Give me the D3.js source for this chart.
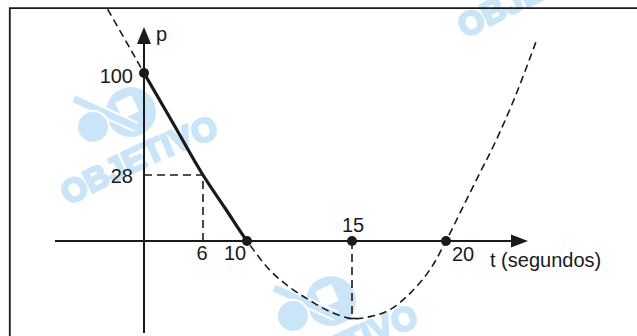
<!DOCTYPE html>
<html><head><meta charset="utf-8">
<script src="https://cdn.jsdelivr.net/npm/d3@7"></script>
<style>html,body{margin:0;padding:0;background:#fff;} svg{display:block;font-family:"Liberation Sans",Arial,Helvetica,sans-serif;}</style>
</head><body><svg id="c" width="637" height="336"></svg>
<script>
// ---- data ----
const curveT = [-3.7, -1.8, 0, 3, 6, 8, 10, 11.1, 12.05, 13.0, 13.95, 15, 15.96, 17.0, 18.1, 19.15, 20, 20.9, 21.8, 22.6, 23.7, 24.8];
const curveP = [145, 122, 100, 64, 28, 14, 0, -4.75, -7.5, -9.6, -11.4, -12.5, -12.2, -11.1, -8.4, -4.6, 0, 14.4, 29.4, 50.6, 84, 122.6];
const dotT = [0, 10, 15, 20];
const dotP = [100, 0, 0, 0];
const tickT = [6, 10, 15, 20];
const tickTLabels = ["6", "10", "15", "20"];
const tickP = [100, 28];
const tickPLabels = ["100", "28"];
const guideT = [6, 15];
const guideP = [28, -12.5];
const solidRange = [0, 10];
const axisLabelX = "t (segundos)";
const axisLabelY = "p";
const watermarkText = "OBJETIVO";

// ---- scales (schematic drawing: piecewise linear) ----
const x = d3.scaleLinear().domain([0, 6, 10, 15, 20]).range([144, 203, 247, 352, 446]);
const y = d3.scaleLinear().domain([-12.5, 0, 28, 100]).range([318.5, 241, 175, 73]);

const svg = d3.select("#c");
const ink = "#1a1a1a";
const wmColor = "#cbe5f8";

svg.append("rect").attr("width", 637).attr("height", 336).attr("fill", "#fff");

// ---- watermarks ----
const defs = svg.append("defs");
defs.append("path").attr("id", "wmPath").attr("d", "M68,206 Q155,158 230,133");
function watermark(dx, dy) {
  const g = svg.append("g").attr("transform", `translate(${dx},${dy})`);
  g.append("circle").attr("cx", 131).attr("cy", 112).attr("r", 25).attr("fill", wmColor);
  g.append("rect").attr("x", -10).attr("y", -10).attr("width", 20).attr("height", 20).attr("rx", 2)
    .attr("fill", "#fff").attr("stroke", wmColor).attr("stroke-width", 2)
    .attr("transform", "translate(127,107) rotate(-25)");
  g.append("line").attr("x1", 74).attr("y1", 99).attr("x2", 136).attr("y2", 127)
    .attr("stroke", "#fff").attr("stroke-width", 11);
  g.append("line").attr("x1", 74).attr("y1", 99).attr("x2", 136).attr("y2", 127)
    .attr("stroke", wmColor).attr("stroke-width", 7);
  g.append("circle").attr("cx", 93).attr("cy", 127).attr("r", 16).attr("fill", wmColor)
    .attr("stroke", "#fff").attr("stroke-width", 2);
  g.append("text").attr("font-size", 33).attr("font-weight", "bold").attr("letter-spacing", 0)
    .attr("fill", wmColor).attr("stroke", wmColor).attr("stroke-width", 2.4).attr("stroke-linejoin", "round")
    .append("textPath").attr("href", "#wmPath").text(watermarkText);
}
watermark(0, 0);
watermark(397, -167);
watermark(200, 189);

// ---- frame ----
svg.append("path").attr("d", "M9.8,336 V8.2 H637").attr("fill", "none")
  .attr("stroke", ink).attr("stroke-width", 1.8);

// ---- guides ----
const guideDash = "8,5";
svg.append("path")
  .attr("d", `M${x(0)},${y(guideP[0])} H${x(guideT[0])} V${y(0)}`)
  .attr("fill", "none").attr("stroke", ink).attr("stroke-width", 1.6).attr("stroke-dasharray", guideDash);
svg.append("line")
  .attr("x1", x(guideT[1])).attr("x2", x(guideT[1])).attr("y1", y(0)).attr("y2", y(guideP[1]))
  .attr("stroke", ink).attr("stroke-width", 1.6).attr("stroke-dasharray", guideDash);
svg.append("line")
  .attr("x1", x(guideT[1]) - 4.5).attr("x2", x(guideT[1]) + 4.5).attr("y1", y(guideP[1])).attr("y2", y(guideP[1]))
  .attr("stroke", ink).attr("stroke-width", 1.6);

// ---- axes ----
const x0 = x(0), y0 = y(0);
const xAxisStart = 55, xAxisTip = 528, yAxisBottom = 333, yAxisTip = 27;
svg.append("line").attr("x1", xAxisStart).attr("x2", xAxisTip - 10).attr("y1", y0).attr("y2", y0)
  .attr("stroke", ink).attr("stroke-width", 2);
svg.append("path").attr("d", `M${xAxisTip},${y0} L${xAxisTip - 17},${y0 - 6.5} L${xAxisTip - 17},${y0 + 6.5} Z`).attr("fill", ink);
svg.append("line").attr("x1", x0).attr("x2", x0).attr("y1", yAxisBottom).attr("y2", yAxisTip + 10)
  .attr("stroke", ink).attr("stroke-width", 2);
svg.append("path").attr("d", `M${x0},${yAxisTip} L${x0 - 7},${yAxisTip + 17} L${x0 + 7},${yAxisTip + 17} Z`).attr("fill", ink);

// ---- curve ----
const pts = curveT.map((t, i) => [x(t), y(curveP[i])]);
const line = d3.line().curve(d3.curveCatmullRom.alpha(0.5));
svg.append("path").attr("d", line(pts)).attr("fill", "none")
  .attr("stroke", ink).attr("stroke-width", 1.6).attr("stroke-dasharray", "7.5,4.5");
defs.append("clipPath").attr("id", "solidClip").append("rect")
  .attr("x", x(solidRange[0])).attr("y", 0)
  .attr("width", x(solidRange[1]) - x(solidRange[0])).attr("height", 336);
svg.append("path").attr("d", line(pts)).attr("fill", "none").attr("clip-path", "url(#solidClip)")
  .attr("stroke", ink).attr("stroke-width", 3.2);

// ---- dots ----
svg.selectAll("circle.dot").data(dotT).enter().append("circle").attr("class", "dot")
  .attr("cx", d => x(d)).attr("cy", (d, i) => y(dotP[i])).attr("r", 5).attr("fill", ink);

// ---- labels ----
const fs = 20;
const xLabelPlace = {
  6: { dx: -1, y: y0 + 19, anchor: "middle" },
  10: { dx: -12, y: y0 + 19, anchor: "middle" },
  15: { dx: 1, y: y0 - 9, anchor: "middle" },
  20: { dx: 6, y: y0 + 19.5, anchor: "start" }
};
svg.selectAll("text.xt").data(tickT).enter().append("text").attr("class", "xt")
  .attr("x", d => x(d) + xLabelPlace[d].dx).attr("y", d => xLabelPlace[d].y)
  .attr("text-anchor", d => xLabelPlace[d].anchor).attr("font-size", fs).attr("fill", ink)
  .text((d, i) => tickTLabels[i]);
svg.selectAll("text.yt").data(tickP).enter().append("text").attr("class", "yt")
  .attr("x", x0 - 11).attr("y", d => y(d) + (d === 100 ? 10 : 8))
  .attr("text-anchor", "end").attr("font-size", fs).attr("fill", ink)
  .text((d, i) => tickPLabels[i]);
svg.append("text").attr("x", 490).attr("y", y0 + 25.5).attr("font-size", fs).attr("fill", ink).text(axisLabelX);
svg.append("text").attr("x", x0 + 12).attr("y", 40.5).attr("font-size", fs).attr("fill", ink).text(axisLabelY);
</script></body></html>
